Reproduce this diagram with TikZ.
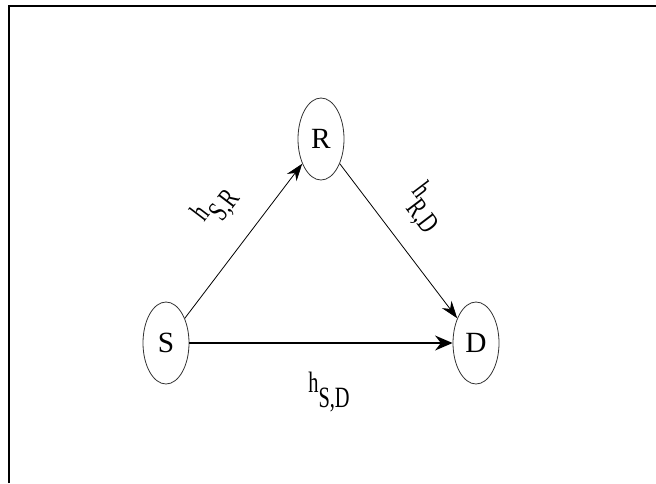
\documentclass[tikz,border=0pt]{standalone}
\usepackage{fontspec}
\setmainfont{Liberation Serif}
\usetikzlibrary{arrows.meta,shapes.geometric}
\newcommand{\chan}[1]{\scalebox{0.9}[1.3]{h\raisebox{-1.1ex}{#1}}}
\begin{document}
\begin{tikzpicture}[x=0.75pt,y=-0.75pt,>={Stealth[length=13pt,width=9pt]},
  station/.style={ellipse,draw=black!80,line width=0.6pt,minimum width=34.5pt,minimum height=61.5pt,inner sep=0pt,font=\fontsize{22}{24}\selectfont},
  link/.style={->,line width=0.6pt},
  direct/.style={-{Stealth[length=13pt,width=11pt]},line width=2.2pt},
  gain/.style={font=\fontsize{17}{19}\selectfont,inner sep=0pt}]
\useasboundingbox (0,0) rectangle (656,483);
\draw[line width=1.5pt] (9,483) -- (9,6) -- (656,6);
\node[station] (S) at (166,343) {S};
\node[station] (R) at (321,139) {R};
\node[station] (D) at (476,343) {D};
\draw[link] (S) -- (R) node[gain,pos=0.56,above=17pt,sloped] {\chan{S,R}};
\draw[link] (R) -- (D) node[gain,pos=0.45,above=15pt,sloped] {\chan{R,D}};
\draw[direct] (S) -- (D) node[gain,midway,below=21pt,xshift=6pt] {\chan{S,D}};
\end{tikzpicture}
\end{document}
